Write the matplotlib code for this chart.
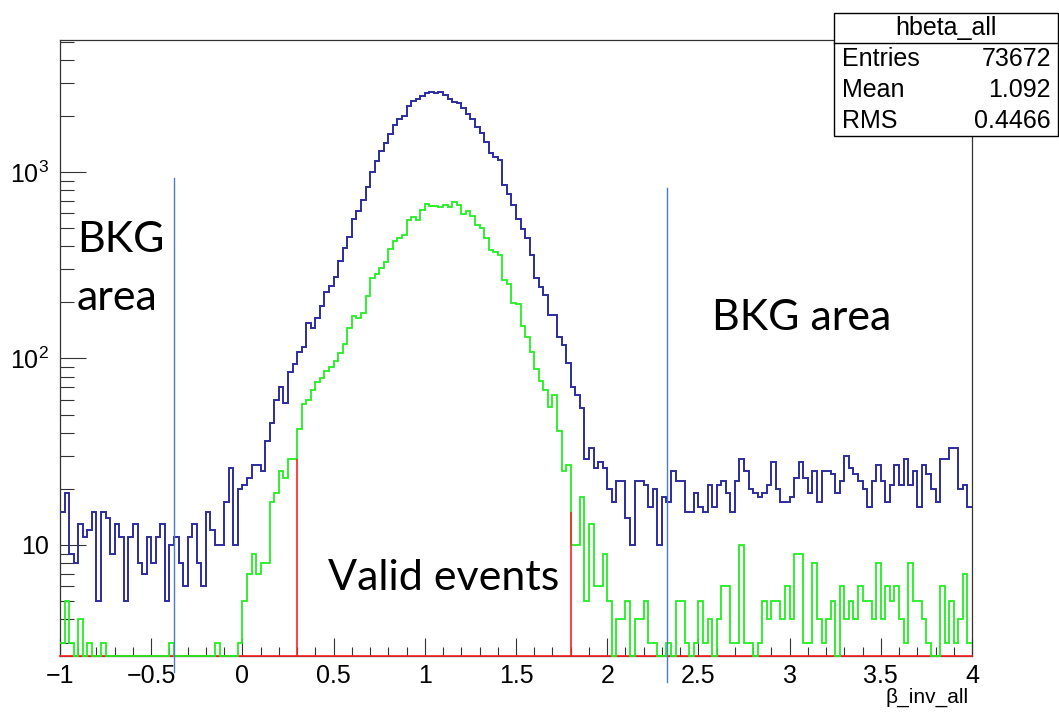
import numpy as np
import matplotlib
matplotlib.use("Agg")
import matplotlib.pyplot as plt
from matplotlib.ticker import FixedLocator, NullFormatter

# 200 bins of width 0.025 between -1 and 4
x_lo, x_hi, n_bins = -1.0, 4.0, 200

blue_counts = [
    15, 19, 9, 8, 13, 11, 12, 15, 5, 15,
    14, 9, 13, 11, 5, 11, 13, 8, 7, 11,
    8, 11, 13, 5, 10, 11, 8, 6, 11, 13,
    8, 6, 15, 12, 10, 10, 17, 26, 10, 20,
    21, 23, 27, 27, 25, 36, 45, 60, 70, 58,
    85, 93, 108, 115, 155, 145, 165, 192, 226, 245,
    272, 335, 389, 449, 563, 615, 705, 830, 1005, 1150,
    1298, 1425, 1590, 1787, 1930, 2000, 2260, 2410, 2455, 2570,
    2640, 2687, 2649, 2687, 2588, 2450, 2370, 2330, 2203, 2055,
    1918, 1751, 1617, 1455, 1267, 1210, 1156, 850, 764, 665,
    561, 493, 440, 357, 271, 242, 220, 171, 171, 130,
    118, 94, 70, 64, 54, 29, 33, 26, 28, 26,
    20, 17, 22, 22, 14, 10, 22, 22, 21, 16,
    20, 10, 18, 17, 25, 22, 22, 15, 15, 19,
    16, 15, 21, 16, 21, 22, 19, 15, 22, 29,
    25, 20, 19, 18, 19, 21, 28, 20, 17, 17,
    18, 23, 28, 23, 19, 25, 17, 25, 25, 24,
    19, 22, 30, 26, 24, 22, 20, 16, 22, 27,
    22, 17, 21, 27, 21, 29, 21, 25, 16, 27,
    24, 20, 17, 29, 29, 33, 33, 20, 21, 16,
]

green_counts = [
    3, 5, 3, 0, 4, 0, 3, 0, 0, 3,
    0, 0, 0, 0, 0, 0, 0, 0, 0, 0,
    0, 0, 0, 0, 3, 0, 0, 0, 0, 0,
    0, 0, 0, 0, 3, 0, 0, 0, 0, 3,
    5, 7, 9, 7, 8, 8, 17, 19, 25, 23,
    29, 29, 42, 57, 60, 68, 75, 79, 86, 90,
    97, 107, 120, 145, 168, 164, 175, 217, 269, 284,
    304, 329, 388, 426, 440, 460, 554, 572, 554, 627,
    675, 657, 657, 650, 665, 650, 687, 665, 593, 621,
    580, 521, 498, 440, 383, 371, 357, 265, 250, 198,
    195, 149, 131, 108, 88, 76, 68, 55, 64, 41,
    25, 27, 10, 10, 18, 5, 13, 6, 6, 9,
    5, 0, 4, 4, 5, 0, 4, 4, 5, 3,
    3, 0, 0, 3, 0, 5, 5, 3, 0, 3,
    5, 3, 4, 0, 4, 6, 6, 3, 3, 10,
    3, 3, 0, 3, 5, 4, 5, 5, 4, 6,
    4, 9, 9, 3, 3, 8, 4, 3, 4, 5,
    0, 6, 4, 5, 4, 6, 5, 5, 4, 8,
    4, 6, 5, 6, 4, 3, 8, 5, 5, 4,
    3, 0, 0, 6, 3, 5, 3, 4, 7, 3,
]

# red cut lines (valid window) and their heights
cut_x = [0.3, 1.8]
cut_h = [29, 15]

# hand-drawn blue separators: x, top, bottom (bottom below the frame)
bkg_x = [-0.375, 2.326]
bkg_top = [929, 821]
bkg_bottom = [2.08, 1.84]

stats_title = "hbeta_all"
stats_names = ["Entries", "Mean", "RMS"]
stats_values = ["73672", "1.092", "0.4466"]

x_ticks = [-1, -0.5, 0, 0.5, 1, 1.5, 2, 2.5, 3, 3.5, 4]
x_ticklabels = ["\u22121", "\u22120.5", "0", "0.5", "1", "1.5", "2", "2.5", "3", "3.5", "4"]
y_ticks = [10, 100, 1000]
y_ticklabels = ["10", "$10^{2}$", "$10^{3}$"]

W, H = 1059, 713
y_min, y_max = 2.54, 5100

plt.rcParams["font.family"] = ["Liberation Sans", "DejaVu Sans"]
plt.rcParams["mathtext.fontset"] = "custom"
plt.rcParams["mathtext.rm"] = "Liberation Sans"
plt.rcParams["mathtext.it"] = "Liberation Sans:italic"

fig = plt.figure(figsize=(W / 100, H / 100), dpi=100)
fig.patch.set_facecolor("white")

# frame in pixels: left 60, right 972, top 40, bottom 656
ax = fig.add_axes([60 / W, 1 - 656 / H, (972 - 60) / W, (656 - 40) / H])
ax.set_yscale("log")
ax.set_xlim(x_lo, x_hi)
ax.set_ylim(y_min, y_max)

edges = np.linspace(x_lo, x_hi, n_bins + 1)
blue = np.clip(np.array(blue_counts, float), y_min, None)
green = np.clip(np.array(green_counts, float), y_min, None)

# red baseline under the green histogram, cut lines on top of it
ax.plot([x_lo, x_hi], [y_min, y_min], color="#ff2020", lw=1.2, zorder=2.6, clip_on=False)
ax.stairs(green, edges, color="#22ee22", lw=1.3, baseline=None, zorder=2.7, clip_on=False)
ax.vlines(cut_x, y_min, cut_h, color="#ff2020", lw=1.2, zorder=2.8)
ax.stairs(blue, edges, color="#2c2ca0", lw=1.4, baseline=None, zorder=4)

for xb, yt, yb in zip(bkg_x, bkg_top, bkg_bottom):
    ax.plot([xb, xb], [yb, yt], color="#4a7bd0", lw=1.0, clip_on=False, zorder=5)

ax.xaxis.set_major_locator(FixedLocator(x_ticks))
ax.set_xticklabels(x_ticklabels)
ax.xaxis.set_minor_locator(FixedLocator(np.arange(-1, 4.001, 0.1)))
ax.set_yticks(y_ticks)
ax.set_yticklabels(y_ticklabels)
minor_y = [m * 10 ** d for d in range(0, 4) for m in range(2, 10)]
ax.yaxis.set_minor_locator(FixedLocator(minor_y))
ax.yaxis.set_minor_formatter(NullFormatter())

ax.tick_params(axis="x", which="major", direction="in", length=13, width=0.8,
               labelsize=18, pad=6, color="#333333")
ax.tick_params(axis="x", which="minor", direction="in", length=6.5, width=0.8,
               color="#333333")
ax.tick_params(axis="y", which="major", direction="in", length=19, width=0.8,
               labelsize=18, pad=8, color="#333333")
ax.tick_params(axis="y", which="minor", direction="in", length=10, width=0.8,
               color="#333333")
for sp in ax.spines.values():
    sp.set_linewidth(0.9)
    sp.set_color("#333333")

fig.text(969 / W, 1 - 697 / H, "\u03b2_inv_all", ha="right", va="center", fontsize=15)

# stats box
box = plt.Rectangle((834 / W, 1 - 136 / H), (1058 - 834) / W, (136 - 13) / H,
                    transform=fig.transFigure, facecolor="white", edgecolor="black",
                    lw=1.0, zorder=10)
fig.add_artist(box)
fig.add_artist(plt.Line2D([834 / W, 1058 / W], [1 - 42.5 / H, 1 - 42.5 / H],
                          transform=fig.transFigure, color="black", lw=1.0, zorder=11))
fig.text(946 / W, 1 - 28 / H, stats_title, ha="center", va="center", fontsize=18, zorder=12)
for k, (nm, val) in enumerate(zip(stats_names, stats_values)):
    yy = 1 - (59 + 31 * k) / H
    fig.text(842 / W, yy, nm, ha="left", va="center", fontsize=18, zorder=12)
    fig.text(1051 / W, yy, val, ha="right", va="center", fontsize=18, zorder=12)

# annotations
ann = dict(family=["Lato", "DejaVu Sans"], fontsize=31, color="black")
fig.text(77 / W, 1 - 240 / H, "BKG", ha="left", va="center", **ann)
fig.text(77 / W, 1 - 298 / H, "area", ha="left", va="center", **ann)
fig.text(712 / W, 1 - 318 / H, "BKG area", ha="left", va="center", **ann)
fig.text(328 / W, 1 - 578 / H, "Valid events", ha="left", va="center", **ann)

fig.savefig("out.png", dpi=100, facecolor="white")
